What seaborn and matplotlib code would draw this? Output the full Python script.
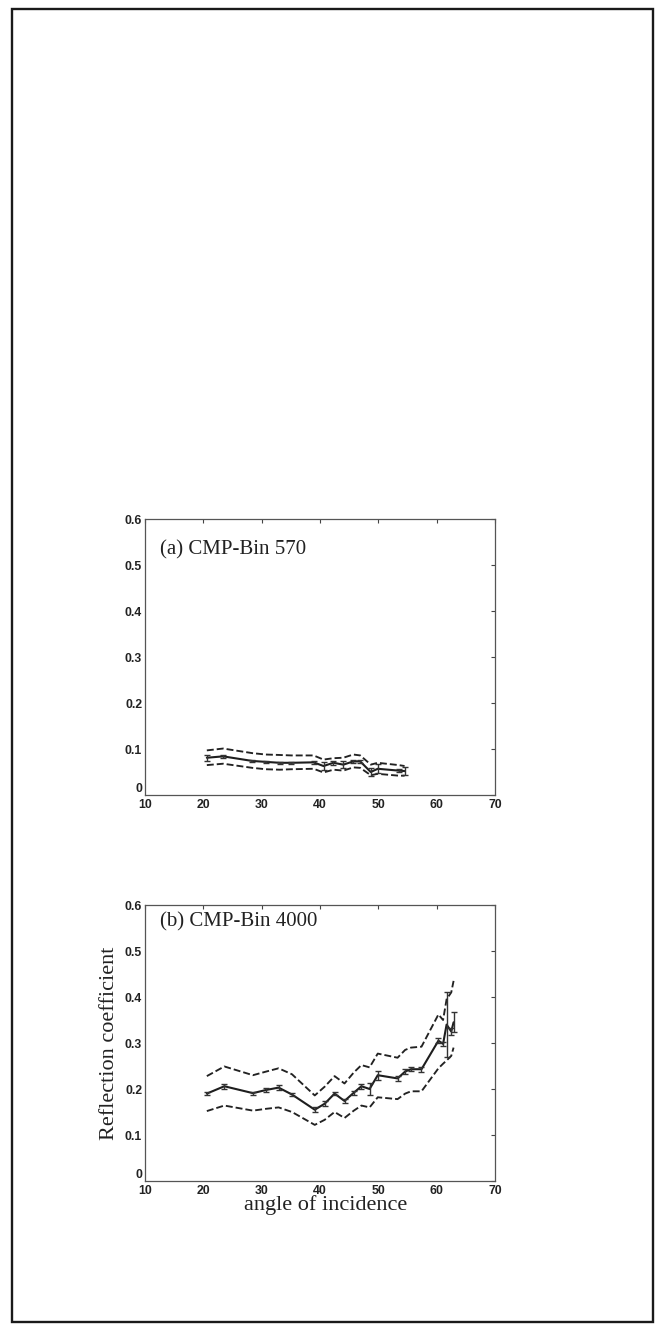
import numpy as np
import matplotlib
matplotlib.use('Agg')
import matplotlib.pyplot as plt
from matplotlib.patches import Rectangle
import seaborn as sns

# panel (a) CMP-Bin 570
angle_a = [20.6, 23.4, 28.4, 30.7, 33.1, 35.1, 38.9, 40.6, 42.3, 44.0, 45.7, 46.9, 48.7, 49.9, 53.5, 54.5]
refl_a = [0.081, 0.084, 0.074, 0.072, 0.070, 0.070, 0.071, 0.063, 0.070, 0.066, 0.073, 0.073, 0.050, 0.057, 0.053, 0.052]
upper_a = [0.097, 0.101, 0.091, 0.088, 0.087, 0.086, 0.086, 0.077, 0.080, 0.081, 0.088, 0.086, 0.066, 0.070, 0.065, 0.063]
lower_a = [0.065, 0.068, 0.059, 0.056, 0.055, 0.056, 0.057, 0.049, 0.055, 0.053, 0.060, 0.059, 0.043, 0.046, 0.042, 0.042]
err_a = [0.006, 0.004, 0.003, 0.003, 0.002, 0.002, 0.004, 0.009, 0.004, 0.008, 0.004, 0.003, 0.008, 0.010, 0.003, 0.008]

# panel (b) CMP-Bin 4000
angle_b = [20.6, 23.6, 28.5, 30.8, 32.9, 35.2, 39.1, 40.8, 42.5, 44.2, 45.8, 47.1, 48.5, 49.9,
           53.3, 54.6, 55.6, 57.4, 60.3, 61.1, 61.7, 62.5, 62.9]
refl_b = [0.190, 0.206, 0.191, 0.198, 0.203, 0.188, 0.155, 0.168, 0.190, 0.174, 0.192, 0.206, 0.200, 0.230,
          0.223, 0.238, 0.243, 0.243, 0.305, 0.298, 0.340, 0.325, 0.345]
upper_b = [0.228, 0.249, 0.230, 0.238, 0.245, 0.232, 0.186, 0.205, 0.228, 0.212, 0.236, 0.252, 0.247, 0.277,
           0.268, 0.285, 0.290, 0.292, 0.362, 0.350, 0.395, 0.410, 0.435]
lower_b = [0.152, 0.164, 0.153, 0.157, 0.160, 0.150, 0.122, 0.133, 0.150, 0.137, 0.153, 0.164, 0.160, 0.182,
           0.178, 0.190, 0.195, 0.195, 0.245, 0.255, 0.262, 0.272, 0.290]
err_b = [0.003, 0.005, 0.003, 0.004, 0.005, 0.003, 0.005, 0.005, 0.004, 0.004, 0.004, 0.005, 0.012, 0.010,
         0.005, 0.006, 0.004, 0.005, 0.006, 0.005, 0.070, 0.008, 0.022]

x_ticks = [10, 20, 30, 40, 50, 60, 70]
y_ticks = [0, 0.1, 0.2, 0.3, 0.4, 0.5, 0.6]
y_tick_labels = ['0', '0.1', '0.2', '0.3', '0.4', '0.5', '0.6']

sns.set_style('white')
plt.rcParams['font.family'] = ['Liberation Serif', 'DejaVu Serif']

fig = plt.figure(figsize=(6.58, 13.25), dpi=100)

# page frame
fig.patches.append(Rectangle((12 / 658, 3 / 1325), 641 / 658, 1313 / 1325, transform=fig.transFigure,
                             fill=False, edgecolor='#1a1a1a', linewidth=1.7))

ax_a = fig.add_axes([145 / 658, 1 - 795 / 1325, 350 / 658, 276 / 1325])
ax_b = fig.add_axes([145 / 658, 1 - 1181 / 1325, 350 / 658, 276 / 1325])

panels = [
    (ax_a, angle_a, refl_a, upper_a, lower_a, err_a, '(a) CMP-Bin 570', 0.89),
    (ax_b, angle_b, refl_b, upper_b, lower_b, err_b, '(b) CMP-Bin 4000', 0.938),
]

for ax, x, y, up, lo, err, label, ty in panels:
    sns.lineplot(x=x, y=up, ax=ax, color='#222222', linestyle='--', linewidth=1.35)
    sns.lineplot(x=x, y=lo, ax=ax, color='#222222', linestyle='--', linewidth=1.35)
    sns.lineplot(x=x, y=y, ax=ax, color='#1e1e1e', linewidth=1.5)
    ax.errorbar(x, y, yerr=err, fmt='none', ecolor='#333333', elinewidth=1.0, capsize=2.2, capthick=1.0)

    ax.set_xlim(10, 70)
    ax.set_ylim(0, 0.6)
    ax.set_xticks(x_ticks)
    ax.set_yticks(y_ticks)
    ax.set_yticklabels(y_tick_labels)
    ax.tick_params(direction='in', top=True, right=True, length=3, width=0.8, color='#444444')
    ax.tick_params(axis='x', pad=3)
    ax.tick_params(axis='y', pad=2)
    for t in ax.get_xticklabels() + ax.get_yticklabels():
        t.set_family(['Liberation Sans', 'DejaVu Sans'])
        t.set_fontweight('bold')
        t.set_fontsize(8.8)
        t.set_color('#222222')
    # MATLAB puts the zero label just above the corner
    ax.get_yticklabels()[0].set_va('bottom')
    for s in ax.spines.values():
        s.set_visible(True)
        s.set_color('#555555')
        s.set_linewidth(0.9)
    ax.text(0.043, ty, label, transform=ax.transAxes, fontsize=15, va='center', ha='left', color='#222222')
    ax.set_xlabel('')
    ax.set_ylabel('')

ax_b.set_ylabel('Reflection coefficient', fontsize=16, color='#222222')
ax_b.yaxis.set_label_coords(-0.075, 0.5)
ax_b.set_xlabel('angle of incidence', fontsize=16, color='#222222')
ax_b.xaxis.set_label_coords(0.516, -0.05)

fig.savefig('out.png', dpi=100)
